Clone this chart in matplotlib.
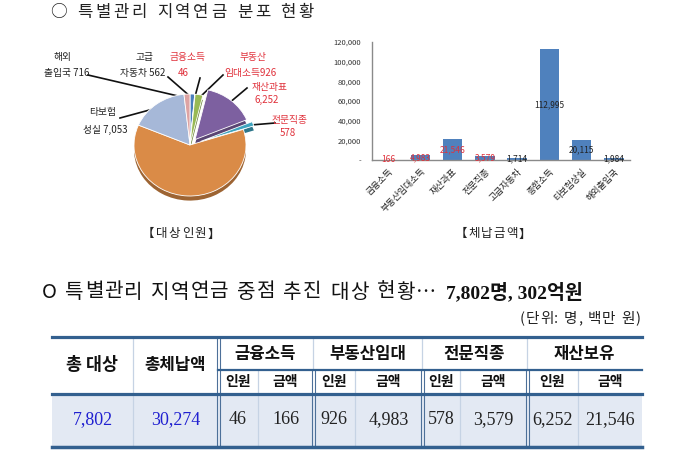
import matplotlib
matplotlib.use('Agg')
import numpy as np
import matplotlib.pyplot as plt
import matplotlib.colors as mcolors
from matplotlib.patches import Rectangle

plt.rcParams['font.family'] = ['Noto Sans CJK KR', 'DejaVu Sans']

W, H = 679, 471

# 대상인원 (pie)
pie_labels = ['고급자동차', '금융소득', '부동산임대소득', '재산과표', '전문직종', '종합소득', '타보험성실', '해외출입국']
pie_values = [562, 46, 926, 6252, 578, 25582, 7053, 716]
pie_colors = ['#4A7EBB', '#C0504D', '#98B954', '#7D60A0', '#3FA4BF', '#DA8B47', '#A6B8D8', '#DDA3A3']
pie_explode = [0, 0, 0, 0.14, 0.2, 0, 0, 0]

# 체납금액 (bar)
bar_labels = ['금융소득', '부동산임대소득', '재산과표', '전문직종', '고급자동차', '종합소득', '타보험상실', '해외출입국']
bar_values = [166, 4983, 21546, 3579, 1714, 112995, 20115, 1984]

# 중점 추진 대상 표
tbl_total = ['7,802', '30,274']
tbl_groups = ['금융소득', '부동산임대', '전문직종', '재산보유']
tbl_people = [46, 926, 578, 6252]
tbl_amount = [166, 4983, 3579, 21546]

RED = '#E0303A'
fig = plt.figure(figsize=(W / 100, H / 100), dpi=100)
fig.patch.set_facecolor('white')
renderer = fig.canvas.get_renderer()

# overlay axes in pixel coords for text / table
oax = fig.add_axes([0, 0, 1, 1])
oax.set_xlim(0, W)
oax.set_ylim(H, 0)
oax.axis('off')


def spaced(x0, x1, y, s, **kw):
    # draw s letter by letter so it fills x0..x1 (wide letter spacing of the original)
    fs = kw.get('fontsize', 10)
    sp = fs * 0.3 * 100 / 72
    ws = []
    for ch in s:
        if ch == ' ':
            ws.append(None)
            continue
        t = oax.text(0, 0, ch, **kw)
        ws.append(t.get_window_extent(renderer).width)
        t.remove()
    used = sum(w if w is not None else sp for w in ws)
    gap = max((x1 - x0 - used) / max(len(s) - 1, 1), 0.5)
    x = x0
    for ch, w in zip(s, ws):
        if w is None:
            x += sp + gap
            continue
        oax.text(x, y, ch, ha='left', va='center', **kw)
        x += w + gap


spaced(50, 314, 12, '○ 특별관리 지역연금 분포 현황', fontsize=12, color='#222222')

# ---- pie ----
cx, cy, rx, ry = 190, 145, 56, 51
lim = 1.4
pax = fig.add_axes([(cx - lim * rx) / W, 1 - (cy + lim * ry) / H, 2 * lim * rx / W, 2 * lim * ry / H])
dark = [tuple(c * 0.72 for c in mcolors.to_rgb(col)) for col in pie_colors]
pax.pie(pie_values, colors=dark, explode=pie_explode, startangle=90, counterclock=False,
        center=(0, -0.09), wedgeprops=dict(linewidth=0))
wedges, _ = pax.pie(pie_values, colors=pie_colors, explode=pie_explode, startangle=90, counterclock=False,
                    wedgeprops=dict(linewidth=0.6, edgecolor='white'))
pax.set_xlim(-lim, lim)
pax.set_ylim(-lim, lim)
pax.set_aspect('auto')
pax.axis('off')

# label layout: (line1, line2 prefix, line1 pos, line2 pos, leader start, colour)
lab_layout = {
    '해외출입국': ('해외', '출입국 ', (63, 57), (67, 73), (88, 75), '#222222'),
    '고급자동차': ('고급', '자동차 ', (145, 57), (143, 73), (168, 77), '#222222'),
    '금융소득': ('금융소득', '', (188, 57), (183, 73), (200, 78), RED),
    '부동산임대소득': ('부동산', '임대소득', (253, 57), (250, 73), (223, 75), RED),
    '재산과표': ('재산과표', '', (270, 87), (267, 100), (247, 88), RED),
    '전문직종': ('전문직종', '', (290, 120), (288, 133), (275, 123), RED),
    '타보험성실': ('타보험', '성실 ', (103, 112), (105, 130), (120, 118), '#222222'),
    '종합소득': ('종합소득', '', (183, 167), (183, 185), None, '#222222'),
}

inv = oax.transData.inverted()
for w, name, val in zip(wedges, pie_labels, pie_values):
    l1, l2, p1, p2, ls, col = lab_layout[name]
    oax.text(p1[0], p1[1], l1, fontsize=7, color=col, ha='center', va='center')
    oax.text(p2[0], p2[1], f'{l2}{val:,}', fontsize=7, color=col, ha='center', va='center')
    if ls is not None:
        th = np.deg2rad((w.theta1 + w.theta2) / 2)
        px = w.center[0] + 0.92 * np.cos(th)
        py = w.center[1] + 0.92 * np.sin(th)
        ex, ey = inv.transform(pax.transData.transform((px, py)))
        oax.plot([ls[0], ex], [ls[1], ey], color='#111111', lw=1.2)

spaced(142, 220, 234, '【대상인원】', fontsize=9, color='#222222')

# ---- bar ----
bl, br, bt, bb = 372, 630, 42, 160
bax = fig.add_axes([bl / W, 1 - bb / H, (br - bl) / W, (bb - bt) / H])
x = np.arange(len(bar_values))
bax.bar(x, bar_values, width=0.6, color='#4F81BD')
bax.set_xlim(-0.5, len(bar_values) - 0.5)
bax.set_ylim(0, 120000)
yt = list(range(0, 120001, 20000))
bax.set_yticks(yt)
bax.set_yticklabels(['-'] + [f'{v:,}' for v in yt[1:]], fontsize=5.5, color='#333333')
bax.tick_params(axis='y', length=0, pad=8)
bax.set_xticks(x)
bax.set_xticklabels(bar_labels, rotation=45, ha='right', rotation_mode='anchor', fontsize=6.5, color='#222222')
bax.tick_params(axis='x', length=0, pad=5)
for s in ['top', 'right']:
    bax.spines[s].set_visible(False)
for s in ['left', 'bottom']:
    bax.spines[s].set_color('#8a8a8a')
    bax.spines[s].set_linewidth(1.0)
for i, v in enumerate(bar_values):
    bax.text(i, v / 2, f'{v:,}', ha='center', va='center', fontsize=6,
             color=RED if i < 4 else '#222222')

spaced(455, 531, 234, '【체납금액】', fontsize=9, color='#222222')

# ---- second title ----
spaced(42, 436, 292, 'O 특별관리 지역연금 중점 추진 대상 현황…', fontsize=14.5, color='#111111')
oax.text(446, 292, '7,802명, 302억원', fontsize=14, fontweight='bold', color='#111111', ha='left', va='center',
         family=['Liberation Serif', 'Noto Sans CJK KR'])
spaced(520, 640, 319, '(단위: 명, 백만 원)', fontsize=10.5, color='#222222')

# ---- table ----
xe = [52, 133, 218, 258, 313, 355, 422, 460, 527, 578, 642]
top, mid, hdr, bot = 337, 370, 394, 447
DK = '#33608F'
LT = '#C6D3E4'
DB = '#4D7099'
oax.add_patch(Rectangle((xe[0], hdr), xe[-1] - xe[0], bot - hdr, color='#E3E9F3', lw=0))
oax.plot([xe[1], xe[1]], [top, bot], color=LT, lw=0.9)
for d in (-1.5, 1.5):
    oax.plot([xe[2] + d, xe[2] + d], [top, bot], color=DB, lw=0.8)
for gx in [xe[4], xe[6], xe[8]]:
    oax.plot([gx, gx], [top, mid], color=LT, lw=0.9)
    for d in (-1.5, 1.5):
        oax.plot([gx + d, gx + d], [mid, bot], color=DB, lw=0.8)
for sx in [xe[3], xe[5], xe[7], xe[9]]:
    oax.plot([sx, sx], [mid, bot], color=LT, lw=0.9)
oax.plot([xe[2], xe[-1]], [mid, mid], color=DK, lw=1.6)
oax.plot([xe[0], xe[-1]], [top, top], color=DK, lw=2.3)
oax.plot([xe[0], xe[-1]], [hdr, hdr], color=DK, lw=2.3)
oax.plot([xe[0], xe[-1]], [bot, bot], color=DK, lw=2.5)

oax.text((xe[0] + xe[1]) / 2, 365, '총 대상', fontsize=12.5, fontweight='bold', ha='center', va='center', color='#111111')
oax.text((xe[1] + xe[2]) / 2, 365, '총체납액', fontsize=12, fontweight='bold', ha='center', va='center', color='#111111')
serif = ['Liberation Serif', 'DejaVu Serif']
for k, t in enumerate(tbl_total):
    oax.text((xe[k] + xe[k + 1]) / 2, 420, t, fontsize=13, color='#2020D0', ha='center', va='center', family=serif)
for g, name in enumerate(tbl_groups):
    a, b, c = xe[2 + 2 * g], xe[3 + 2 * g], xe[4 + 2 * g]
    oax.text((a + c) / 2, 354, name, fontsize=12, fontweight='bold', ha='center', va='center', color='#111111')
    oax.text((a + b) / 2, 382, '인원', fontsize=10, fontweight='bold', ha='center', va='center', color='#111111')
    oax.text((b + c) / 2, 382, '금액', fontsize=10, fontweight='bold', ha='center', va='center', color='#111111')
    oax.text((a + b) / 2, 420, f'{tbl_people[g]:,}', fontsize=13, ha='center', va='center', color='#222222', family=serif)
    oax.text((b + c) / 2, 420, f'{tbl_amount[g]:,}', fontsize=13, ha='center', va='center', color='#222222', family=serif)

fig.savefig('out.png', dpi=100)
